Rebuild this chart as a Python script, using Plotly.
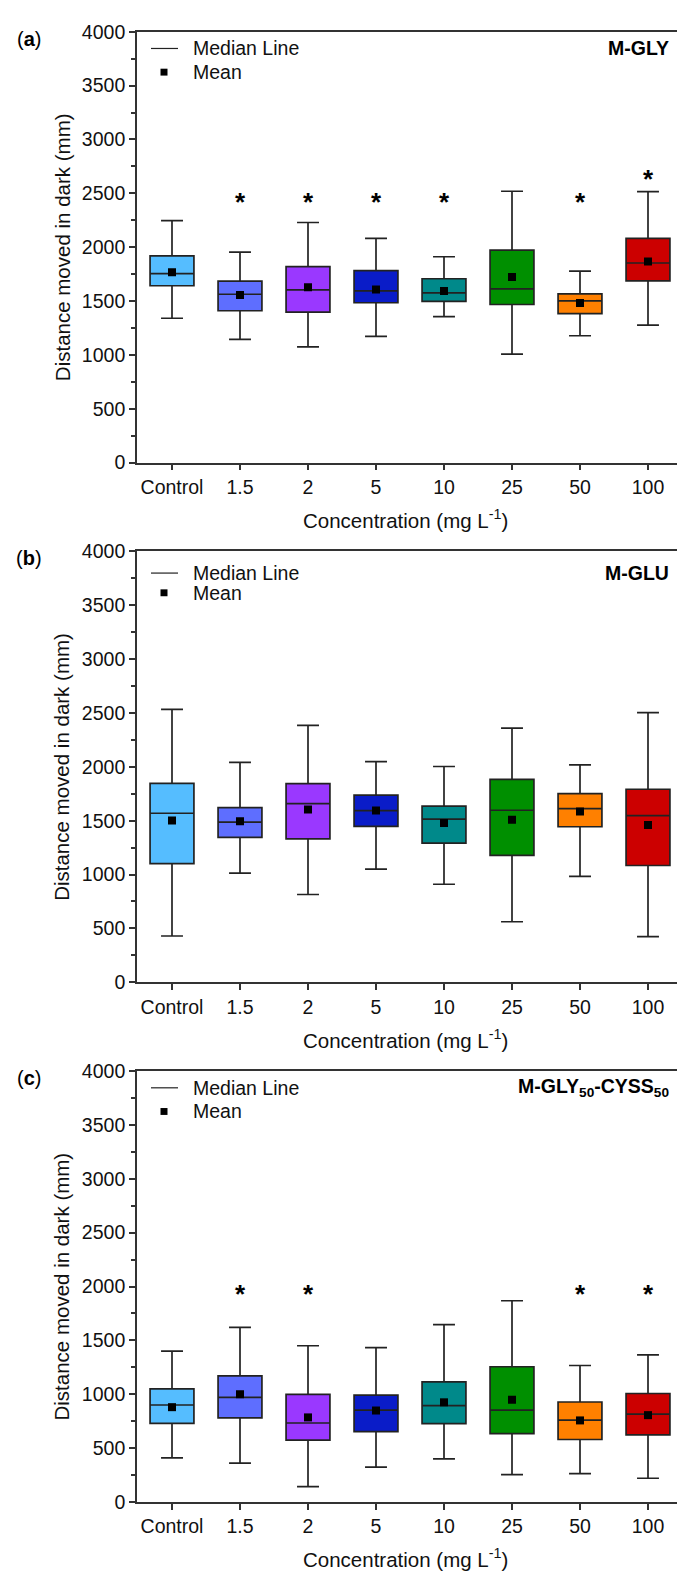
import plotly.graph_objects as go

W, H = 677, 1582

categories = ["Control", "1.5", "2", "5", "10", "25", "50", "100"]
box_colors = ["#55BDFF", "#5E6EFF", "#9A38FF", "#0A1CC8", "#00898A", "#008F00", "#FF8000", "#CC0000"]

# Panel (a) M-GLY
a_upper = [2247, 1954, 2229, 2082, 1911, 2519, 1777, 2516]
a_q3 = [1920, 1685, 1820, 1783, 1707, 1972, 1566, 2082]
a_median = [1755, 1563, 1603, 1594, 1575, 1612, 1502, 1853]
a_q1 = [1642, 1410, 1398, 1484, 1496, 1468, 1383, 1688]
a_lower = [1340, 1145, 1075, 1172, 1356, 1007, 1178, 1276]
a_mean = [1768, 1557, 1627, 1606, 1594, 1722, 1481, 1868]
a_star_cats = ["1.5", "2", "5", "10", "50", "100"]
a_star_y = [2420, 2420, 2420, 2420, 2420, 2630]

# Panel (b) M-GLU
b_upper = [2534, 2042, 2384, 2049, 2003, 2360, 2018, 2503]
b_q3 = [1847, 1621, 1844, 1737, 1636, 1884, 1752, 1792]
b_median = [1569, 1487, 1658, 1594, 1514, 1597, 1612, 1548]
b_q1 = [1102, 1346, 1331, 1447, 1291, 1179, 1444, 1084]
b_lower = [430, 1013, 815, 1050, 910, 562, 983, 424]
b_mean = [1502, 1496, 1603, 1594, 1478, 1508, 1585, 1459]
b_star_cats = []
b_star_y = []

# Panel (c) M-GLY50-CYSS50
c_upper = [1400, 1620, 1450, 1432, 1646, 1868, 1267, 1365]
c_q3 = [1050, 1170, 998, 992, 1114, 1255, 928, 1007]
c_median = [900, 970, 733, 852, 895, 852, 760, 815]
c_q1 = [730, 780, 574, 653, 727, 635, 580, 623]
c_lower = [410, 360, 143, 324, 400, 253, 263, 220]
c_mean = [880, 1000, 785, 849, 925, 949, 757, 806]
c_star_cats = ["1.5", "2", "50", "100"]
c_star_y = [1930, 1930, 1930, 1930]

y_ticks = [0, 500, 1000, 1500, 2000, 2500, 3000, 3500, 4000]
panel_letters = ["a", "b", "c"]
panel_names = ["<b>M-GLY</b>", "<b>M-GLU</b>", "<b>M-GLY<sub>50</sub>-CYSS<sub>50</sub></b>"]
y_title = "Distance moved in dark (mm)"
x_title = "Concentration (mg L<sup>-1</sup>)"

panels = [
    (a_upper, a_q3, a_median, a_q1, a_lower, a_mean, a_star_cats, a_star_y),
    (b_upper, b_q3, b_median, b_q1, b_lower, b_mean, b_star_cats, b_star_y),
    (c_upper, c_q3, c_median, c_q1, c_lower, c_mean, c_star_cats, c_star_y),
]

# layout in pixels
plot_left = 137
plot_tops = [21, 548, 1075]
plot_h = 437
legend_dy = [(17, 41), (22, 42), (17, 41)]
cat_px0 = 172
cat_step = 68
x_range = [(plot_left - cat_px0) / cat_step, (W - cat_px0) / cat_step]

FONT = "Liberation Sans, Arial, sans-serif"
AX = "#333333"
TXT = "#111111"

def px(x):
    return x / W

def py(y):
    return 1 - y / H

fig = go.Figure()
idx = {c: i for i, c in enumerate(categories)}
annotations = []
shapes = []

for p, (up, q3, med, q1, lo, mean, scats, sy) in enumerate(panels):
    xa = "x" if p == 0 else f"x{p+1}"
    ya = "y" if p == 0 else f"y{p+1}"
    for i, cat in enumerate(categories):
        fig.add_trace(go.Box(
            x=[i], q1=[q1[i]], median=[med[i]], q3=[q3[i]],
            lowerfence=[lo[i]], upperfence=[up[i]],
            width=0.645, whiskerwidth=0.5,
            fillcolor=box_colors[i],
            line=dict(color="#222222", width=1.7),
            showlegend=False, hoverinfo="skip",
            xaxis=xa, yaxis=ya,
        ))
    fig.add_trace(go.Scatter(
        x=list(range(len(categories))), y=mean, mode="markers",
        marker=dict(symbol="square", size=8, color="black"),
        showlegend=False, hoverinfo="skip", xaxis=xa, yaxis=ya,
    ))
    for c, yv in zip(scats, sy):
        annotations.append(dict(xref=xa, yref=ya, x=idx[c], y=yv, text="<b>*</b>",
                                showarrow=False, xanchor="center", yanchor="middle",
                                font=dict(size=26, color="black", family=FONT)))

layout = dict(
    width=W, height=H,
    margin=dict(l=0, r=0, t=0, b=0),
    plot_bgcolor="white", paper_bgcolor="white",
    font=dict(family=FONT, size=19.5, color=TXT),
    showlegend=False,
)
for p in range(3):
    top = plot_tops[p]
    bot = top + plot_h
    xk = "xaxis" if p == 0 else f"xaxis{p+1}"
    yk = "yaxis" if p == 0 else f"yaxis{p+1}"
    ya = "y" if p == 0 else f"y{p+1}"
    layout[xk] = dict(
        domain=[px(plot_left), 1], range=x_range, anchor=ya,
        tickmode="array", tickvals=list(range(len(categories))), ticktext=categories,
        ticks="outside", ticklen=6, tickwidth=1.5, tickcolor=AX,
        showline=True, linecolor=AX, linewidth=1.7, mirror=True,
        showgrid=False, zeroline=False, tickfont=dict(size=19.5, color=TXT),
    )
    layout[yk] = dict(
        domain=[py(bot), py(top)], range=[0, 4000],
        anchor="x" if p == 0 else f"x{p+1}",
        tickmode="array", tickvals=y_ticks,
        ticks="outside", ticklen=6, tickwidth=1.5, tickcolor=AX,
        minor=dict(dtick=250, tick0=0, ticks="outside", ticklen=4, tickwidth=1.5, tickcolor=AX),
        showline=True, linecolor=AX, linewidth=1.7, mirror=False,
        showgrid=False, zeroline=False, tickfont=dict(size=19.5, color=TXT),
    )
    annotations.append(dict(xref="paper", yref="paper", x=px(29), y=py(top + 7),
                            text=f"(<b>{panel_letters[p]}</b>)", showarrow=False,
                            xanchor="center", yanchor="middle", font=dict(size=20, color="black")))
    annotations.append(dict(xref="paper", yref="paper", x=px(671), y=py(top + legend_dy[p][0]),
                            text=panel_names[p], showarrow=False,
                            xanchor="right", yanchor="middle", font=dict(size=19.5, color="black")))
    annotations.append(dict(xref="paper", yref="paper", x=px(62), y=py(top + plot_h / 2),
                            text=y_title, textangle=-90, showarrow=False,
                            xanchor="center", yanchor="middle", font=dict(size=20.5, color=TXT)))
    annotations.append(dict(xref="paper", yref="paper", x=px(405), y=py(bot + 57),
                            text=x_title, showarrow=False,
                            xanchor="center", yanchor="middle", font=dict(size=20.5, color=TXT)))
    ly1 = top + legend_dy[p][0]
    ly2 = top + legend_dy[p][1]
    shapes.append(dict(type="line", xref="paper", yref="paper",
                       x0=px(151), x1=px(178), y0=py(ly1), y1=py(ly1),
                       line=dict(color="#222222", width=1.2)))
    shapes.append(dict(type="rect", xref="paper", yref="paper",
                       x0=px(160.5), x1=px(167.5), y0=py(ly2 - 3.5), y1=py(ly2 + 3.5),
                       fillcolor="black", line=dict(width=0)))
    annotations.append(dict(xref="paper", yref="paper", x=px(191), y=py(ly1),
                            text="Median Line", showarrow=False,
                            xanchor="left", yanchor="middle", font=dict(size=19.5, color=TXT)))
    annotations.append(dict(xref="paper", yref="paper", x=px(191), y=py(ly2),
                            text="Mean", showarrow=False,
                            xanchor="left", yanchor="middle", font=dict(size=19.5, color=TXT)))

layout["annotations"] = annotations
layout["shapes"] = shapes
fig.update_layout(**layout)
fig.write_html(
    "out.html",
    config={"displayModeBar": False},
    post_script="document.body.style.margin='0';document.body.style.overflow='hidden';",
)
